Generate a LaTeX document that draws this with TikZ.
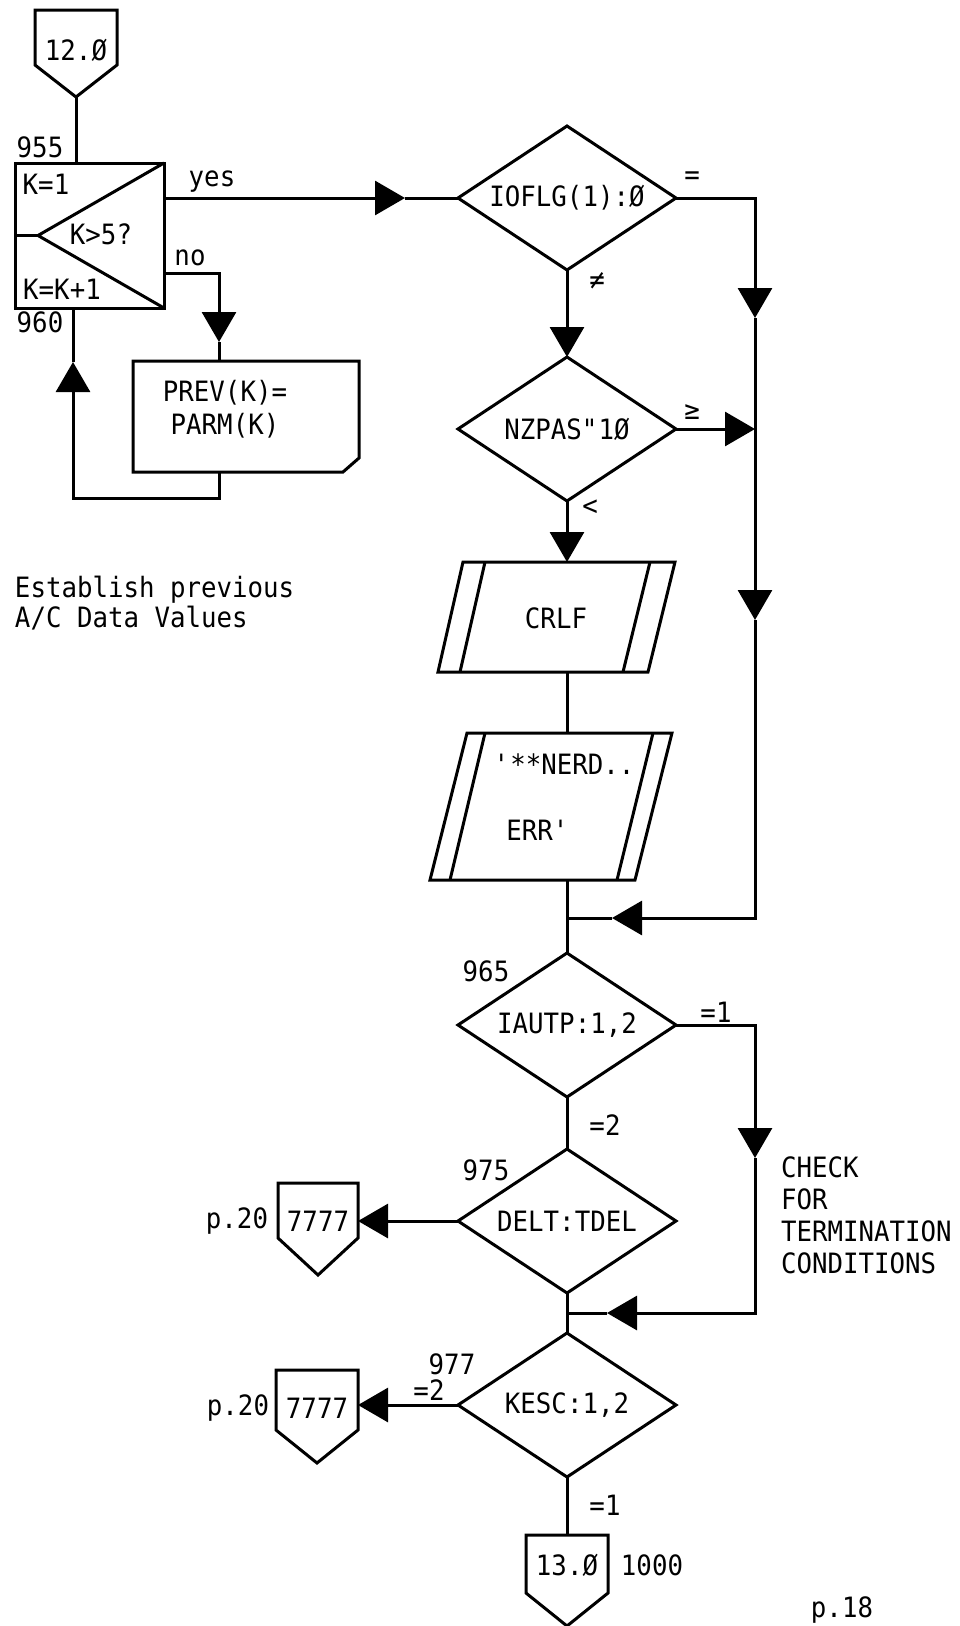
\documentclass[tikz,border=0pt]{standalone}
\usepackage{fontspec}
\setmainfont{DejaVu Sans Mono}[FakeStretch=0.92]
\usetikzlibrary{arrows.meta,shapes.geometric,calc}
\begin{document}
\begin{tikzpicture}[x=1pt,y=-1pt,
  every node/.style={font=\fontsize{28}{32}\selectfont, inner sep=0pt, outer sep=0pt},
  ln/.style={line width=3pt, line join=miter},
  flow/.style={ln, -{Triangle[length=30pt,width=34pt]}},
  dia/.style={draw, ln, shape=diamond, aspect=1.5, minimum width=218pt, minimum height=144pt},
  twoline/.style={align=center, font=\fontsize{28}{33}\selectfont},
]
\useasboundingbox (0,0) rectangle (959,1626);

% ---- entry connector 12.0
\draw[ln] (35,10) -- (117,10) -- (117,65) -- (76,97) -- (35,65) -- cycle;
\node (c12) at (76,50) {12.Ø};
\coordinate (c12tip) at (76,97);

% ---- loop box 955/960
\node[draw, ln, minimum width=149pt, minimum height=145pt] (loop) at (89.5,235.5) {};
\coordinate (tri) at (38,235.5);
\draw[ln] (loop.north east) -- (tri) -- (loop.south east);
\draw[ln] (loop.west) -- (tri);
\node (l955) at (40,147) {955};
\node (l960) at (40,322) {960};
\node (kinit) at (46,184) {K=1};
\node (ktest) at (101,234) {K>5?};
\node (kinc) at (62,289) {K=K+1};
\draw[ln] (c12tip) -- (c12tip |- loop.north);

% ---- PREV box
\draw[ln] (133,361) -- (359,361) -- (359,458) -- (343,472) -- (133,472) -- cycle;
\node[twoline] (prev) at (225,409) {PREV(K)=\\PARM(K)};
\coordinate (prevT) at (219,361);
\coordinate (prevB) at (219,472);

% ---- diamonds
\node[dia] (ioflg) at (567,198) {IOFLG(1):Ø};
\node[dia] (nzpas) at (567,429) {NZPAS\textquotedbl 1Ø};
\node[dia] (iautp) at (567,1025) {IAUTP:1,2};
\node[dia] (delt) at (567,1221) {DELT:TDEL};
\node[dia] (kesc) at (567,1405) {KESC:1,2};

% ---- yes / no branches of loop
\coordinate (yesS) at (164,198);
\coordinate (yesA) at (405,198);
\draw[flow] (yesS) -- (yesA);
\draw[ln] (yesA) -- (ioflg.west);
\node (yes) at (212,182) {yes};

\coordinate (noS) at (164,273);
\coordinate (noA) at (219,342);
\draw[flow] (noS) -| (noA);
\draw[ln] (noA) -- (prevT);
\node (no) at (190,258) {no};

\coordinate (retC) at (73,498);
\coordinate (retA) at (73,362);
\draw[flow] (prevB) |- (retC) -- (retA);
\draw[ln] (retA) -- (retA |- loop.south);

% ---- IOFLG / NZPAS
\draw[flow] (ioflg.south) -- (nzpas.north);
\coordinate (r1) at (755,318);
\coordinate (r2) at (755,620);
\coordinate (m1) at (612,918);
\coordinate (merge) at (567,918);
\draw[flow] (ioflg.east) -| (r1);
\draw[flow] (r1) -- (r2);
\draw[flow] (r2) |- (m1);
\draw[ln] (m1) -- (merge);
\draw[flow] (nzpas.east) -- (nzpas.east -| r1);
\node (eq) at (692,178) {=};
\node (neq) at (597,281) {≠};
\node (geq) at (692,412) {≥};
\node (lt) at (590,508) {<};

% ---- CRLF
\draw[ln] (463,562) -- (675,562) -- (648,672) -- (438,672) -- cycle;
\draw[ln] (485,562) -- (460,672);
\draw[ln] (650,562) -- (623,672);
\node (crlf) at (556,618) {CRLF};
\coordinate (crlfT) at (567,562);
\coordinate (crlfB) at (567,672);
\draw[flow] (nzpas.south) -- (crlfT);

% ---- NERD ERR
\draw[ln] (467,733) -- (672,733) -- (635,880) -- (430,880) -- cycle;
\draw[ln] (485,733) -- (450,880);
\draw[ln] (653,733) -- (617,880);
\node (nerd1) at (564,764) {\textquotesingle**NERD..};
\node (nerd2) at (538,830) {ERR\textquotesingle};
\coordinate (nerdT) at (567,733);
\coordinate (nerdB) at (567,880);
\draw[ln] (crlfB) -- (nerdT);
\draw[ln] (nerdB) -- (iautp.north);

% ---- IAUTP / DELT / KESC
\node (l965) at (486,971) {965};
\node (l975) at (486,1170) {975};
\node (l977) at (452,1364) {977};
\node (eq1a) at (716,1012) {=1};
\node (eq2a) at (605,1125) {=2};
\node (eq2b) at (429,1390) {=2};
\node (eq1b) at (605,1505) {=1};
\draw[ln] (iautp.south) -- (delt.north);
\coordinate (r3) at (755,1158);
\coordinate (m2) at (607,1313);
\coordinate (merge2) at (567,1313);
\draw[flow] (iautp.east) -| (r3);
\draw[flow] (r3) |- (m2);
\draw[ln] (m2) -- (merge2);
\draw[ln] (delt.south) -- (kesc.north);
\node[anchor=west, align=left, font=\fontsize{28}{32}\selectfont] (check) at (781,1215) {CHECK\\FOR\\TERMINATION\\CONDITIONS};

% ---- exit connectors 7777
\draw[ln] (278,1183) -- (358,1183) -- (358,1238) -- (318,1275) -- (278,1238) -- cycle;
\node (c7a) at (318,1221) {7777};
\node (p20a) at (237,1221) {p.20};
\coordinate (c7aR) at (358,1221);
\draw[flow] (delt.west) -- (c7aR);

\draw[ln] (276,1370) -- (358,1370) -- (358,1430) -- (317,1463) -- (276,1430) -- cycle;
\node (c7b) at (317,1408) {7777};
\node (p20b) at (238,1408) {p.20};
\coordinate (c7bR) at (358,1405);
\draw[flow] (kesc.west) -- (c7bR);

% ---- exit connector 13.0
\draw[ln] (526,1535) -- (608,1535) -- (608,1593) -- (567,1626) -- (526,1593) -- cycle;
\node (c13) at (567,1565) {13.Ø};
\coordinate (c13T) at (567,1535);
\draw[ln] (kesc.south) -- (c13T);
\node (l1000) at (652,1565) {1000};

% ---- notes
\node[anchor=west, align=left, font=\fontsize{28}{30}\selectfont] (est) at (15,603) {Establish previous\\A/C Data Values};
\node (p18) at (842,1610) {p.18};
\end{tikzpicture}
\end{document}
